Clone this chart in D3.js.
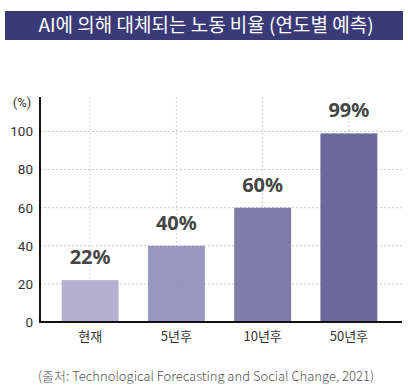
<!DOCTYPE html>
<html><head><meta charset="utf-8">
<script src="https://cdn.jsdelivr.net/npm/d3@7"></script>
<style>
body{margin:0;background:#fff;}
svg{display:block;font-family:"Noto Sans CJK KR","Noto Sans",sans-serif;}
</style></head>
<body><svg id="c" width="408" height="392"></svg>
<script>
const categories = ["현재", "5년후", "10년후", "50년후"];
const values = [22, 40, 60, 99];
const valueLabels = ["22%", "40%", "60%", "99%"];
const yTicks = [0, 20, 40, 60, 80, 100];
const barColors = ["#b1acd0", "#9490bf", "#7874a7", "#63629a"];
const titleText = "AI에 의해 대체되는 노동 비율 (연도별 예측)";
const sourceText = "(출처: Technological Forecasting and Social Change, 2021)";

const svg = d3.select("#c");
const x = d3.scaleBand().domain(categories).range([47, 392]).paddingInner(0.34).paddingOuter(0.17);
const y = d3.scaleLinear().domain([0, 100]).range([322, 131.5]);
const yTop = 97, xLeft = 40, xRight = 402;

// title banner
svg.append("rect").attr("x", 5).attr("y", 11).attr("width", 398).attr("height", 29).attr("fill", "#3b3a78");
svg.append("text").attr("x", 206).attr("y", 32).attr("text-anchor", "middle")
  .attr("fill", "#fff").attr("font-size", 19).attr("font-weight", 400).text(titleText);

// grid
svg.append("g").selectAll("line").data(yTicks.filter(d => d > 0)).join("line")
  .attr("x1", xLeft).attr("x2", xRight).attr("y1", d => y(d)).attr("y2", d => y(d))
  .attr("stroke", "#c8c8c8").attr("stroke-width", 1).attr("stroke-dasharray", "2,2");
svg.append("g").selectAll("line").data(categories).join("line")
  .attr("x1", d => x(d) + x.bandwidth() / 2).attr("x2", d => x(d) + x.bandwidth() / 2)
  .attr("y1", yTop).attr("y2", y(0))
  .attr("stroke", "#d0d0d0").attr("stroke-width", 1).attr("stroke-dasharray", "2,2");

// bars
svg.append("g").selectAll("rect").data(values).join("rect")
  .attr("x", (d, i) => x(categories[i])).attr("width", x.bandwidth())
  .attr("y", d => y(d)).attr("height", d => y(0) - y(d))
  .attr("fill", (d, i) => barColors[i]).attr("fill-opacity", 0.95);

// value labels
svg.append("g").selectAll("text").data(values).join("text")
  .attr("x", (d, i) => x(categories[i]) + x.bandwidth() / 2).attr("y", d => y(d) - 16)
  .attr("text-anchor", "middle").attr("font-size", 20).attr("font-weight", 700)
  .attr("fill", "#444").attr("font-family", "'Noto Sans','Noto Sans CJK KR',sans-serif")
  .text((d, i) => valueLabels[i]);

// axes
const yAxis = d3.axisLeft(y).tickValues(yTicks).tickSize(0).tickPadding(7);
const gy = svg.append("g").attr("transform", `translate(${xLeft},0)`).call(yAxis);
gy.select(".domain").remove();
gy.selectAll("text").attr("font-size", 13.5).attr("fill", "#333").attr("font-family", "Roboto,'Noto Sans',sans-serif");

const xAxis = d3.axisBottom(x).tickSize(0).tickPadding(10);
const gx = svg.append("g").attr("transform", `translate(0,${y(0)})`).call(xAxis);
gx.select(".domain").remove();
gx.selectAll("text").attr("font-size", 13).attr("fill", "#333").attr("font-family", "'Noto Sans CJK KR',sans-serif");

svg.append("line").attr("x1", xLeft).attr("x2", xLeft).attr("y1", yTop).attr("y2", y(0) + 1)
  .attr("stroke", "#111").attr("stroke-width", 2);
svg.append("line").attr("x1", xLeft - 1).attr("x2", xRight).attr("y1", y(0)).attr("y2", y(0))
  .attr("stroke", "#111").attr("stroke-width", 2);

svg.append("text").attr("x", 22).attr("y", 107).attr("text-anchor", "middle")
  .attr("font-size", 13).attr("fill", "#333").attr("font-family", "Roboto,'Noto Sans',sans-serif").text("(%)");

svg.append("text").attr("x", 206).attr("y", 381).attr("text-anchor", "middle")
  .attr("font-size", 13).attr("fill", "#555").attr("font-weight", 300).text(sourceText);
</script></body></html>
